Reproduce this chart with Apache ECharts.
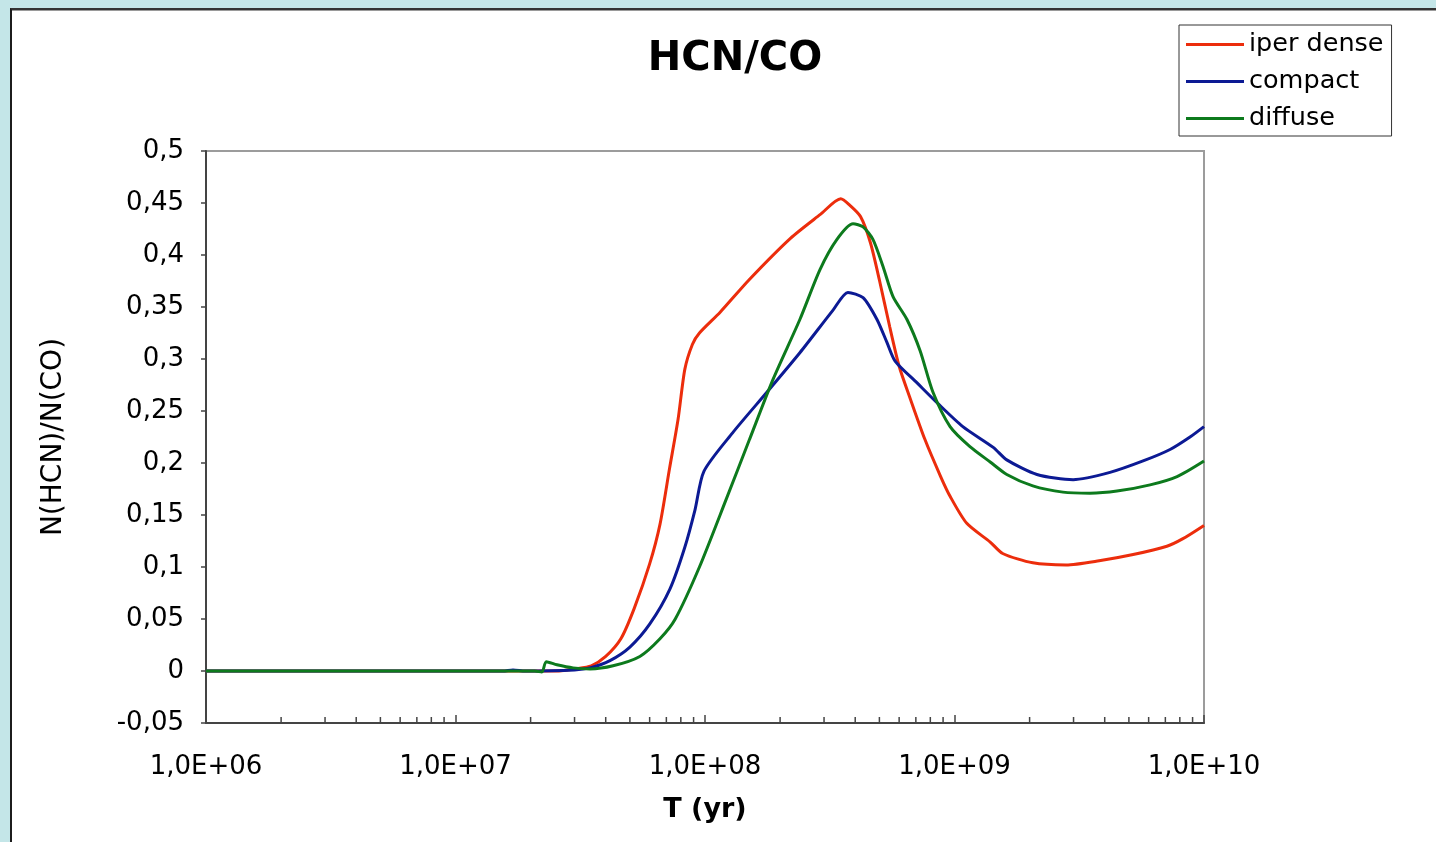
<!DOCTYPE html>
<html>
<head>
<meta charset="utf-8">
<script src="https://cdn.jsdelivr.net/npm/echarts@6/dist/echarts.min.js"></script>
<style>
  html, body { margin: 0; padding: 0; width: 1436px; height: 842px; overflow: hidden; background: #c4e6e8; }
  #panel { position: absolute; left: 10px; top: 8px; width: 1440px; height: 860px; background: #ffffff;
           border-left: 2px solid #1c1c1c; border-top: 2px solid #333333; box-shadow: inset 0 1px 0 #9a9a9a; }
  #chart { position: absolute; left: 0; top: 0; width: 1436px; height: 842px; }
</style>
</head>
<body>
<div id="panel"></div>
<div id="chart"></div>
<script>
// Evolution time (yr) and HCN/CO column density ratio for three cloud models
const iperDenseYears = [1e6, 2.6e7, 3.0e7, 3.5e7, 4.0e7, 4.6e7, 5.2e7, 6.0e7, 6.6e7, 7.2e7, 7.8e7, 8.3e7, 8.9e7, 9.5e7,
  1.15e8, 1.5e8, 2.2e8, 2.9e8, 3.5e8, 3.8e8, 4.2e8, 4.6e8, 5.0e8, 5.5e8, 6.0e8, 6.6e8, 7.6e8, 8.8e8, 9.6e8,
  1.12e9, 1.39e9, 1.56e9, 2.06e9, 2.8e9, 3.8e9, 5.2e9, 7.1e9, 8.2e9, 1e10];
const iperDenseRatio = [0, 0, 0.002, 0.005, 0.014, 0.031, 0.06, 0.103, 0.141, 0.194, 0.242, 0.29, 0.314, 0.325,
  0.345, 0.376, 0.416, 0.439, 0.454, 0.448, 0.437, 0.412, 0.376, 0.331, 0.293, 0.264, 0.223, 0.187, 0.168,
  0.142, 0.124, 0.113, 0.104, 0.102, 0.106, 0.112, 0.12, 0.127, 0.14];

const compactYears = [1e6, 1.55e7, 1.7e7, 1.9e7, 3.0e7, 3.46e7, 4.16e7, 5.0e7, 6.0e7, 7.24e7, 8.3e7, 9.12e7, 9.9e7,
  1.29e8, 1.77e8, 2.4e8, 3.26e8, 3.74e8, 4.3e8, 4.89e8, 5.36e8, 5.78e8, 7.08e8, 8.51e8,
  1.08e9, 1.43e9, 1.62e9, 2.14e9, 2.99e9, 4.2e9, 5.7e9, 7.31e9, 8.79e9, 1e10];
const compactRatio = [0, 0, 0.001, 0, 0.001, 0.003, 0.01, 0.023, 0.045, 0.079, 0.119, 0.155, 0.192,
  0.229, 0.268, 0.306, 0.347, 0.364, 0.359, 0.338, 0.316, 0.298, 0.277, 0.258,
  0.235, 0.215, 0.203, 0.189, 0.184, 0.191, 0.202, 0.213, 0.225, 0.235];

const diffuseYears = [1e6, 2.08e7, 2.22e7, 2.31e7, 2.55e7, 2.96e7, 3.46e7, 4.28e7, 5.48e7, 6.6e7, 7.6e7, 9.5e7,
  1.22e8, 1.51e8, 1.87e8, 2.4e8, 2.89e8, 3.38e8, 3.92e8, 4.3e8, 4.71e8, 5.17e8, 5.67e8, 6.45e8, 7.28e8, 8.2e8, 9.6e8,
  1.15e9, 1.39e9, 1.62e9, 2.06e9, 2.72e9, 3.49e9, 4.48e9, 6.08e9, 7.8e9, 1e10];
const diffuseRatio = [0, 0, -0.001, 0.009, 0.006, 0.003, 0.002, 0.005, 0.014, 0.031, 0.05, 0.1,
  0.166, 0.223, 0.28, 0.338, 0.386, 0.415, 0.43, 0.427, 0.415, 0.389, 0.36, 0.338, 0.308, 0.268, 0.235,
  0.216, 0.201, 0.189, 0.178, 0.172, 0.171, 0.173, 0.179, 0.187, 0.202];

const seriesNames = ['iper dense', 'compact', 'diffuse'];
const seriesColors = ['#ec2d0c', '#0c1a94', '#0d7a1d'];

// Intermediate log-axis tick positions (2..9 x 10^k)
const minorTickYears = [];
for (let e = 6; e < 10; e++) {
  for (let m = 2; m <= 9; m++) minorTickYears.push(m * Math.pow(10, e));
}

const pairs = (xs, ys) => xs.map((x, i) => [x, ys[i]]);
const FONT = 'DejaVu Sans, Verdana, sans-serif';

const chart = echarts.init(document.getElementById('chart'), null, { renderer: 'canvas' });

chart.setOption({
  backgroundColor: 'transparent',
  animation: false,
  title: {
    text: 'HCN/CO',
    left: 730, top: 35, textAlign: 'center',
    textStyle: { fontFamily: FONT, fontSize: 40, fontWeight: 'bold', color: '#000' }
  },
  legend: {
    data: seriesNames,
    orient: 'vertical',
    left: 1179, top: 25,
    padding: [4, 8, 2, 7],
    itemGap: 6,
    itemWidth: 58, itemHeight: 3,
    icon: 'rect',
    borderColor: '#333', borderWidth: 1,
    backgroundColor: '#fff',
    textStyle: { fontFamily: FONT, fontSize: 25.5, color: '#000', lineHeight: 31 }
  },
  grid: {
    left: 206, top: 151, width: 998, height: 572,
    show: true, borderColor: '#9c9c9c', borderWidth: 2, backgroundColor: '#fff'
  },
  xAxis: {
    type: 'log', logBase: 10, min: 1e6, max: 1e10,
    name: 'T (yr)', nameLocation: 'middle', nameGap: 73,
    nameTextStyle: { fontFamily: FONT, fontSize: 27, fontWeight: 'bold', color: '#000' },
    axisLine: { onZero: false, lineStyle: { color: '#444', width: 2 } },
    axisTick: { inside: true, length: 8, lineStyle: { color: '#444', width: 1.5 } },
    splitLine: { show: false },
    axisLabel: {
      margin: 31, fontFamily: FONT, fontSize: 26, color: '#000',
      formatter: v => '1,0E+' + String(Math.round(Math.log10(v))).padStart(2, '0')
    }
  },
  yAxis: {
    type: 'value', min: -0.05, max: 0.5, interval: 0.05,
    name: 'N(HCN)/N(CO)', nameLocation: 'middle', nameGap: 138, nameRotate: 90,
    nameTextStyle: { fontFamily: FONT, fontSize: 28, color: '#000' },
    axisLine: { show: true, lineStyle: { color: '#444', width: 2 } },
    axisTick: { show: true, inside: false, length: 5, lineStyle: { color: '#444', width: 1.5 } },
    splitLine: { show: false },
    axisLabel: {
      margin: 22, fontFamily: FONT, fontSize: 26, color: '#000',
      formatter: v => String(Math.round(v * 100) / 100).replace('.', ',')
    }
  },
  series: [
    {
      type: 'custom', silent: true, z: 3,
      data: minorTickYears.map(t => [t, -0.05]),
      renderItem: (params, api) => {
        const p = api.coord([api.value(0), api.value(1)]);
        return {
          type: 'line',
          shape: { x1: p[0], y1: p[1], x2: p[0], y2: p[1] - 6 },
          style: { stroke: '#444', lineWidth: 1.5 }
        };
      }
    },
    ...[
      [iperDenseYears, iperDenseRatio],
      [compactYears, compactRatio],
      [diffuseYears, diffuseRatio]
    ].map(([xs, ys], i) => ({
      name: seriesNames[i],
      type: 'line',
      data: pairs(xs, ys),
      showSymbol: false,
      smooth: 0.25,
      color: seriesColors[i],
      lineStyle: { color: seriesColors[i], width: 3 },
      z: 4
    }))
  ]
});
</script>
</body>
</html>
